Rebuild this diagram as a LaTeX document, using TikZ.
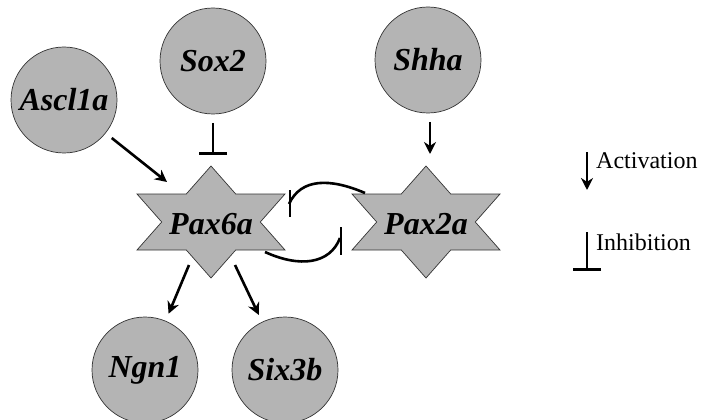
\documentclass[tikz,border=0pt]{standalone}
\usepackage{fontspec}
\setmainfont{Liberation Serif}
\usetikzlibrary{arrows.meta,calc}
\definecolor{nodegray}{RGB}{180,180,180}
\tikzset{
  gene/.style={circle,draw=black!80,line width=0.7pt,fill=nodegray,minimum size=106pt,inner sep=0pt,outer sep=8pt,font=\fontsize{32}{32}\selectfont\bfseries\itshape},
  hub/.style={inner sep=0pt,font=\fontsize{32}{32}\selectfont\bfseries\itshape},
  starfill/.style={draw=black!80,line width=0.7pt,fill=nodegray},
  act/.style={line width=2.6pt,-{Stealth[length=12pt,width=12pt]}},
  inh/.style={line width=2.6pt,-{Bar[width=28pt,line width=2.6pt]}},
  curve/.style={line width=2.6pt},
  legend/.style={font=\fontsize{24}{24}\selectfont,anchor=base west,inner sep=0pt}
}
\newcommand\hexstar[1]{%
  \draw[starfill,shift={(#1)}] (0,-56) -- (24.7,-28) -- (74,-28) -- (49.3,0) -- (74,28) -- (24.7,28) -- (0,56) -- (-24.7,28) -- (-74,28) -- (-49.3,0) -- (-74,-28) -- (-24.7,-28) -- cycle;}
\begin{document}
\begin{tikzpicture}[x=1pt,y=-1pt]
\useasboundingbox (0,0) rectangle (705,420);
% genes
\node[gene] (asc) at (64,100) {Ascl1a};
\node[gene] (sox) at (213,61) {Sox2};
\node[gene] (shh) at (428,60) {Shha};
\node[gene] (ngn) at (145,370) {Ngn1};
\node[gene] (six) at (285,370) {Six3b};
% stars
\hexstar{211,222}
\hexstar{426,222}
\node[hub] (p6) at (211,224) {Pax6a};
\node[hub] (p2) at (426,224) {Pax2a};
% connectors
\coordinate (ascT) at ($(p6)+(-44,-42)$);
\draw[act] (asc) -- (ascT);
\coordinate (soxT) at ($(p6)+(2,-69)$);
\draw[inh] (sox.south |- 0,123) -- (soxT);
\coordinate (shhS) at ($(shh)+(2,62)$);
\coordinate (shhT) at ($(p2)+(4,-70)$);
\draw[act] (shhS) -- (shhT);
\coordinate (p6a) at ($(p6)+(-22,41)$);
\coordinate (p6b) at ($(p6)+(24,41)$);
\draw[act] (p6a) -- (ngn);
\draw[act] (p6b) -- (six);
% mutual inhibition: Pax2a -| Pax6a
\coordinate (p2s) at ($(p2)+(-61,-31)$);
\coordinate (p6t) at ($(p6)+(78,-20)$);
\draw[curve] (p2s) .. controls ($(p2)+(-96,-46)$) and ($(p6)+(90,-46)$) .. (p6t);
\coordinate (b1a) at ($(p6)+(79,-34)$);
\coordinate (b1b) at ($(p6)+(79,-7)$);
\draw[curve] (b1a) -- (b1b);
% Pax6a -| Pax2a
\coordinate (p6s) at ($(p6)+(54,28)$);
\coordinate (p2t) at ($(p2)+(-86,14)$);
\draw[curve] (p6s) .. controls ($(p6)+(89,44)$) and ($(p2)+(-96,40)$) .. (p2t);
\coordinate (b2a) at ($(p2)+(-85,3)$);
\coordinate (b2b) at ($(p2)+(-85,31)$);
\draw[curve] (b2a) -- (b2b);
% legend
\coordinate (la1) at (587,152);
\coordinate (la2) at (587,190);
\draw[act] (la1) -- (la2);
\node[legend] (lact) at (596,168) {Activation};
\coordinate (li1) at (587,232);
\coordinate (li2) at (587,271);
\draw[inh] (li1) -- (li2);
\node[legend] (linh) at (596,250) {Inhibition};
\end{tikzpicture}
\end{document}
